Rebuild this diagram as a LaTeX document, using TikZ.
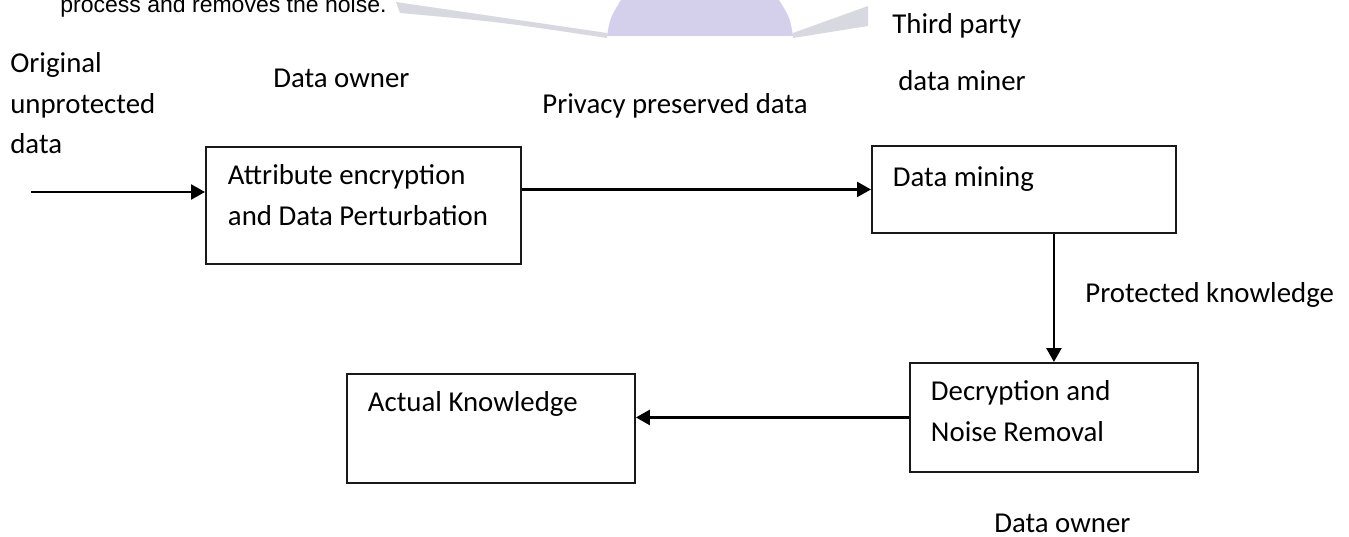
\documentclass[tikz,border=0pt]{standalone}
\usepackage{fontspec}
\setmainfont{Carlito}
\newfontfamily\captionfont{Liberation Sans}
\usetikzlibrary{arrows.meta, positioning, calc}
\definecolor{wmlilac}{RGB}{212, 208, 236}
\definecolor{wmgrey}{RGB}{216, 216, 224}
\newcommand{\flowfont}{\fontsize{16.4pt}{23pt}\selectfont}

\begin{document}
\begin{tikzpicture}[x=0.02cm, y=-0.02cm]
                \tikzstyle{stage} = [draw=black!90, line width=1.1pt, rectangle, anchor=north west, inner ysep=0pt, inner xsep=0.42cm, align=left, font=\flowfont, execute at begin node={\spaceskip=0pt\xspaceskip=0pt}]
                \tikzstyle{flow} = [draw, line width=1.4pt, -{Triangle[length=0.28cm, width=0.3cm]}]
                \tikzstyle{note} = [inner sep=0pt, anchor=base west, font=\flowfont]

                \clip (0,0) rectangle (1349,537);

                % faded mark at the top edge
                \fill[wmgrey] (396,2) -- (607,33) -- (607,38) .. controls (500,22) .. (400,13) -- cycle;
                \fill[wmgrey] (793,33) -- (868,6) -- (868,26) .. controls (830,32) .. (793,38) -- cycle;
                \fill[wmlilac] (607,36) .. controls (610,18) .. (621,0) -- (779,0) .. controls (790,18) .. (793,36) -- cycle;

                \node[inner sep=0pt, anchor=base west, font=\captionfont\fontsize{13.1pt}{15pt}\selectfont] (tail) at (60,13) {process and removes the noise.};

                % the four stages
                \node[stage, text width=5.42cm, inner xsep=0.44cm, text height=0.76cm, text depth=1.58cm] (attr) at (205,146) {Attribute encryption\\and Data Perturbation};
                \node[stage, text width=5.24cm, text height=0.82cm, text depth=0.92cm] (mine) at (871,145) {Data mining};
                \node[stage, text width=4.92cm, text height=0.76cm, text depth=1.42cm] (decr) at (909,362) {Decryption and\\Noise Removal};
                \node[stage, text width=4.92cm, text height=0.76cm, text depth=1.42cm] (know) at (346,373) {Actual Knowledge};

                % labels
                \node[note, text width=3cm, align=left] (orig) at (10,73) {Original\\unprotected\\data};
                \node[note] (own1) at (273,88) {Data owner};
                \node[note] (priv) at (542,113) {Privacy preserved data};
                \node[note] (third) at (892,34) {Third party};
                \node[note] (miner) at (898,91) {data miner};
                \node[note] (prot) at (1085,302) {Protected knowledge};
                \node[note] (own2) at (994,532) {Data owner};

                \coordinate (src) at (31,192);
                \draw[flow] (src) -- (src -| attr.west);
                \draw[flow] (attr.east |- mine.west) -- (mine.west);
                \draw[flow] (decr.north |- mine.south) -- (decr.north);
                \draw[flow] (decr.west) -- (decr.west -| know.east);
            \end{tikzpicture}
\end{document}
